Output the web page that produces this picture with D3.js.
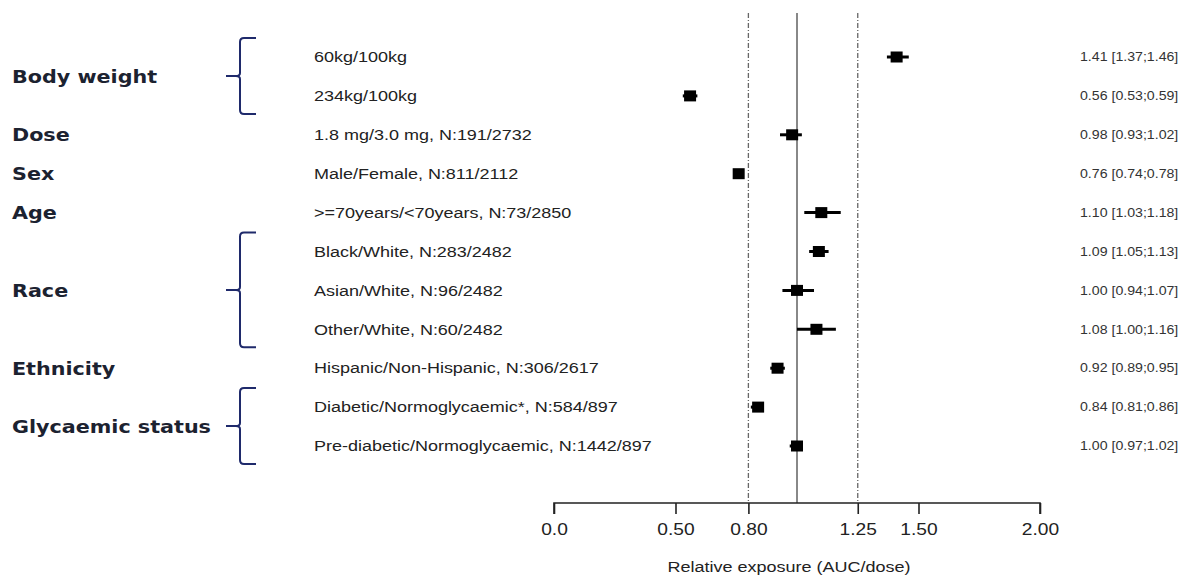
<!DOCTYPE html>
<html>
<head>
<meta charset="utf-8">
<script src="https://cdn.jsdelivr.net/npm/d3@7"></script>
<style>
  body { margin: 0; background: #fff; }
  svg { display: block; }
</style>
</head>
<body>
<script>
// forest plot of relative exposure by covariate

var rowLabels = [
  "60kg/100kg",
  "234kg/100kg",
  "1.8 mg/3.0 mg, N:191/2732",
  "Male/Female, N:811/2112",
  ">=70years/<70years, N:73/2850",
  "Black/White, N:283/2482",
  "Asian/White, N:96/2482",
  "Other/White, N:60/2482",
  "Hispanic/Non-Hispanic, N:306/2617",
  "Diabetic/Normoglycaemic*, N:584/897",
  "Pre-diabetic/Normoglycaemic, N:1442/897"
];
var estimate = [1.41, 0.56, 0.98, 0.76, 1.10, 1.09, 1.00, 1.08, 0.92, 0.84, 1.00];
var lower    = [1.37, 0.53, 0.93, 0.74, 1.03, 1.05, 0.94, 1.00, 0.89, 0.81, 0.97];
var upper    = [1.46, 0.59, 1.02, 0.78, 1.18, 1.13, 1.07, 1.16, 0.95, 0.86, 1.02];

// covariate groups: name, first row, last row
var groupNames = ["Body weight", "Dose", "Sex", "Age", "Race", "Ethnicity", "Glycaemic status"];
var groupFirst = [0, 2, 3, 4, 5, 8, 9];
var groupLast  = [1, 2, 3, 4, 7, 8, 10];

var tickValues = [0, 0.5, 0.8, 1.25, 1.5, 2.0];
var tickLabels = ["0.0", "0.50", "0.80", "1.25", "1.50", "2.00"];
var limitLines = [0.8, 1.25];

var width = 1187, height = 579;
var stretch = 1.2; // the source picture is wider than tall, text looks stretched

var svg = d3.select("body").append("svg")
  .attr("width", width)
  .attr("height", height);

var x = d3.scaleLinear().domain([0, 2]).range([554, 1040]);
var y = d3.scaleLinear().domain([0, 10]).range([57, 446]);
var axisY = 503;
var sans = "Liberation Sans, Arial, sans-serif";

// reference lines
svg.selectAll("line.limit").data(limitLines).enter().append("line")
  .attr("class", "limit")
  .attr("x1", function(d){ return x(d); }).attr("x2", function(d){ return x(d); })
  .attr("y1", 13).attr("y2", axisY)
  .attr("stroke", "#666").attr("stroke-width", 1.3)
  .attr("stroke-dasharray", "5,2,1,2");

svg.append("line")
  .attr("x1", x(1)).attr("x2", x(1))
  .attr("y1", 13).attr("y2", axisY)
  .attr("stroke", "#888").attr("stroke-width", 2);

// axis
var axis = d3.axisBottom(x)
  .tickValues(tickValues)
  .tickFormat(function(d, i){ return tickLabels[i]; })
  .tickSize(11)
  .tickPadding(10);

var gAxis = svg.append("g")
  .attr("transform", "translate(0," + axisY + ")")
  .call(axis);
gAxis.select(".domain").attr("d", "M" + x(0) + ",11V0H" + x(2) + "V11")
  .attr("stroke", "#222").attr("stroke-width", 1.6);
gAxis.selectAll(".tick line").attr("stroke", "#222").attr("stroke-width", 1.6);
gAxis.selectAll(".tick text")
  .attr("font-family", sans)
  .attr("font-size", 16).attr("fill", "#222")
  .attr("transform", "scale(" + stretch + ",1)");

svg.append("text")
  .attr("transform", "translate(" + 789 + ",572) scale(" + stretch + ",1)")
  .attr("text-anchor", "middle")
  .attr("font-family", sans)
  .attr("font-size", 15).attr("fill", "#222")
  .text("Relative exposure (AUC/dose)");

// CI lines and markers
var idx = d3.range(rowLabels.length);

svg.selectAll("line.ci").data(idx).enter().append("line")
  .attr("class", "ci")
  .attr("x1", function(i){ return x(lower[i]); })
  .attr("x2", function(i){ return x(upper[i]); })
  .attr("y1", function(i){ return y(i); })
  .attr("y2", function(i){ return y(i); })
  .attr("stroke", "#000").attr("stroke-width", 3);

svg.selectAll("rect.est").data(idx).enter().append("rect")
  .attr("class", "est")
  .attr("x", function(i){ return x(estimate[i]) - 6; })
  .attr("y", function(i){ return y(i) - 5.5; })
  .attr("width", 12).attr("height", 11)
  .attr("fill", "#000");

// row labels
svg.selectAll("text.row").data(rowLabels).enter().append("text")
  .attr("class", "row")
  .attr("transform", function(d, i){ return "translate(314," + y(i) + ") scale(" + stretch + ",1)"; })
  .attr("dy", "0.35em")
  .attr("font-family", sans)
  .attr("font-size", 15).attr("fill", "#222")
  .text(function(d){ return d; });

// estimate text on the right
svg.selectAll("text.est").data(idx).enter().append("text")
  .attr("class", "est")
  .attr("transform", function(i){ return "translate(1080," + y(i) + ") scale(1.18,1)"; })
  .attr("dy", "0.35em")
  .attr("font-family", sans)
  .attr("font-size", 12).attr("fill", "#333")
  .text(function(i){
    return estimate[i].toFixed(2) + " [" + lower[i].toFixed(2) + ";" + upper[i].toFixed(2) + "]";
  });

// group labels
var gIdx = d3.range(groupNames.length);
svg.selectAll("text.group").data(gIdx).enter().append("text")
  .attr("class", "group")
  .attr("transform", function(g){
    return "translate(12," + (y(groupFirst[g]) + y(groupLast[g])) / 2 + ") scale(1.15,1)";
  })
  .attr("dy", "0.35em")
  .attr("font-family", "DejaVu Sans, Verdana, sans-serif")
  .attr("font-weight", "bold")
  .attr("font-size", 18).attr("fill", "#1c2230")
  .text(function(g){ return groupNames[g]; });

// braces for groups spanning several rows
var braced = gIdx.filter(function(g){ return groupLast[g] > groupFirst[g]; });
svg.selectAll("path.brace").data(braced).enter().append("path")
  .attr("class", "brace")
  .attr("fill", "none").attr("stroke", "#1f2a6b").attr("stroke-width", 2)
  .attr("d", function(g){
    var top = y(groupFirst[g]) - 19, bot = y(groupLast[g]) + 18;
    var mid = (top + bot) / 2, bx = 240;
    return "M" + (bx + 16) + "," + top + "H" + (bx + 4) + "Q" + bx + "," + top + " " + bx + "," + (top + 4) +
      "V" + (mid - 3) + "Q" + bx + "," + mid + " " + (bx - 4) + "," + mid + "H" + (bx - 14) +
      "M" + (bx - 4) + "," + mid + "Q" + bx + "," + mid + " " + bx + "," + (mid + 3) +
      "V" + (bot - 4) + "Q" + bx + "," + bot + " " + (bx + 4) + "," + bot + "H" + (bx + 16);
  });
</script>
</body>
</html>
